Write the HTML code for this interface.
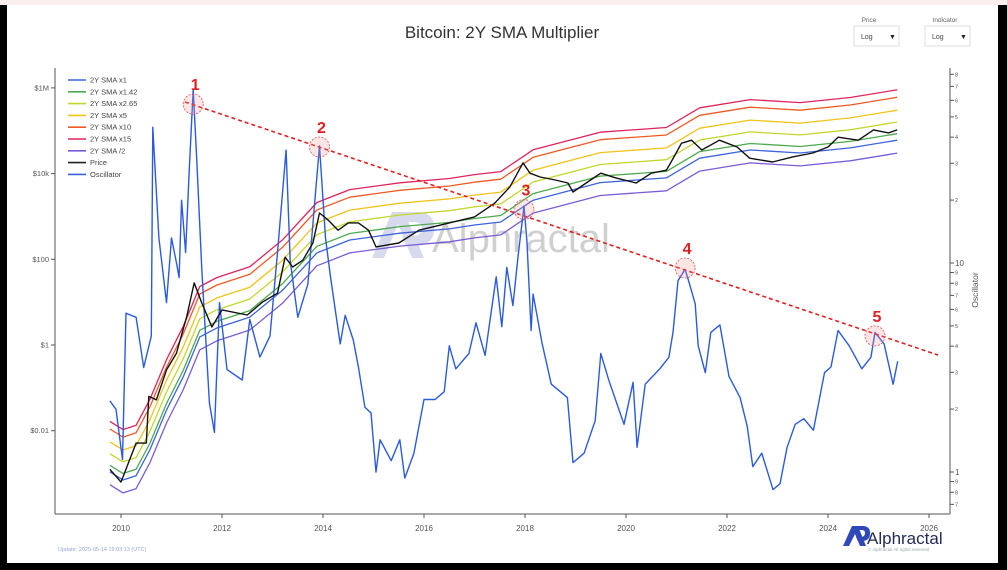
<!DOCTYPE html>
<html><head><meta charset="utf-8">
<style>
html,body{margin:0;padding:0;background:#000;}
#wrap{position:relative;width:1007px;height:570px;overflow:hidden;background:#000;font-family:"Liberation Sans",sans-serif;}
svg{position:absolute;left:0;top:0;}
</style></head>
<body>
<div id="wrap">
<svg id="chart" width="1007" height="570" viewBox="0 0 1007 570">
  <rect x="0" y="0" width="1007" height="5" fill="#fbeeee"/>
  <rect x="7" y="5" width="991" height="558" fill="#ffffff"/>
  <text x="502" y="38" text-anchor="middle" font-size="17" fill="#333">Bitcoin: 2Y SMA Multiplier</text>
  <g>
    <text x="869" y="22" text-anchor="middle" font-size="6.5" fill="#666">Price</text>
    <rect x="854" y="26" width="45" height="20" fill="#fff" stroke="#ddd"/>
    <text x="861" y="39" font-size="7" fill="#444">Log</text>
    <text x="889" y="39" font-size="7" fill="#222">▼</text>
  </g>
  <g>
    <text x="945" y="22" text-anchor="middle" font-size="6.5" fill="#666">Indicator</text>
    <rect x="925" y="26" width="45" height="20" fill="#fff" stroke="#ddd"/>
    <text x="932" y="39" font-size="7" fill="#444">Log</text>
    <text x="960" y="39" font-size="7" fill="#222">▼</text>
  </g>
  <g opacity="0.55">
    <path d="M372 258 L392 212 L404 212 L424 258 L412 258 L398 224 L384 258 Z" fill="#b8bde0"/>
    <path d="M398 212 L420 212 Q436 214 434 232 Q432 246 414 246 L406 246 L402 236 L414 236 Q422 235 422 229 Q422 222 414 222 L402 222 Z" fill="#b8bde0"/>
    <text x="432" y="252" font-size="40" fill="#aaa">Alphractal</text>
  </g>
  <g id="axes"></g>
  <g id="series"></g>
  <g id="annot"></g>
  <g id="legend"></g>
  <text x="58" y="551" font-size="5.5" fill="#9aaad0">Update: 2025-05-14 19:03:13 (UTC)</text>
  <g>
    <path d="M843 546 L852 526 L858 526 L866 546 L860 546 L855 534 L849 546 Z" fill="#2f49b8"/>
    <path d="M855 526 L864 526 Q871 527 870 535 Q869 541 862 541 L858 541 L856 537 L862 537 Q865 536 865 533 Q865 530 862 530 L857 530 Z" fill="#2f49b8"/>
    <text x="867" y="544" font-size="17" fill="#1f2a55">Alphractal</text>
    <text x="868" y="551" font-size="4.5" fill="#9aa">© Alphractal All rights reserved</text>
  </g>
</svg>
</div>
<script>
// ---- data ----
const smaYears = [2009.78,2010.04,2010.3,2010.57,2010.9,2011.23,2011.56,2011.9,2012.55,2013.2,2013.88,2014.53,2015.52,2016.5,2017.0,2017.52,2018.16,2019.49,2020.8,2021.46,2022.46,2023.45,2024.44,2025.37];
const smaLog10 = [-2.96,-3.15,-3.05,-2.45,-1.52,-0.75,0.19,0.40,0.65,1.28,2.15,2.45,2.61,2.71,2.80,2.87,3.38,3.79,3.90,4.36,4.55,4.48,4.60,4.78];
const bandMultipliers = [15,10,5,2.65,1.42,1,0.5];
const bandNames = ["2Y SMA x15","2Y SMA x10","2Y SMA x5","2Y SMA x2.65","2Y SMA x1.42","2Y SMA x1","2Y SMA /2"];
const priceYears = [2009.78,2010.0,2010.3,2010.5,2010.55,2010.7,2010.9,2011.1,2011.3,2011.45,2011.6,2011.8,2012.0,2012.5,2012.8,2013.1,2013.25,2013.4,2013.6,2013.8,2013.93,2014.1,2014.3,2014.5,2014.7,2014.9,2015.05,2015.5,2015.9,2016.5,2017.0,2017.4,2017.7,2017.96,2018.1,2018.3,2018.6,2018.85,2018.95,2019.3,2019.5,2019.8,2020.2,2020.5,2020.8,2020.95,2021.1,2021.3,2021.5,2021.85,2022.2,2022.45,2022.9,2023.3,2023.7,2024.0,2024.2,2024.6,2024.9,2025.2,2025.37];
const priceLog10 = [-2.9,-3.2,-2.29,-2.29,-1.2,-1.28,-0.58,-0.19,0.65,1.45,0.98,0.42,0.82,0.70,1.0,1.21,2.05,1.82,1.98,2.38,3.08,2.92,2.68,2.85,2.85,2.68,2.29,2.38,2.68,2.85,2.99,3.31,3.69,4.25,4.01,3.92,3.85,3.78,3.57,3.85,4.01,3.90,3.78,4.01,4.08,4.39,4.71,4.78,4.55,4.78,4.62,4.36,4.27,4.39,4.48,4.62,4.85,4.78,5.02,4.95,5.02];
const oscYears = [2009.78,2009.9,2010.03,2010.1,2010.3,2010.45,2010.6,2010.63,2010.75,2010.9,2011.0,2011.1,2011.15,2011.2,2011.28,2011.35,2011.43,2011.5,2011.6,2011.75,2011.85,2011.95,2012.1,2012.4,2012.55,2012.75,2012.95,2013.1,2013.27,2013.35,2013.5,2013.7,2013.85,2013.93,2014.05,2014.15,2014.34,2014.44,2014.6,2014.7,2014.83,2014.95,2015.05,2015.13,2015.35,2015.52,2015.62,2015.8,2016.0,2016.22,2016.4,2016.5,2016.63,2016.89,2017.03,2017.21,2017.29,2017.43,2017.54,2017.64,2017.76,2017.86,2017.98,2018.04,2018.12,2018.16,2018.34,2018.52,2018.84,2018.95,2019.17,2019.39,2019.5,2019.66,2019.96,2020.14,2020.22,2020.38,2020.67,2020.85,2020.93,2021.03,2021.17,2021.25,2021.37,2021.43,2021.57,2021.68,2021.86,2022.04,2022.26,2022.4,2022.51,2022.69,2022.91,2023.05,2023.19,2023.35,2023.52,2023.71,2023.93,2024.06,2024.2,2024.42,2024.67,2024.85,2024.93,2025.11,2025.29,2025.38];
const oscLog10 = [0.34,0.30,0.06,0.76,0.74,0.50,0.65,1.65,1.12,0.81,1.12,1.0,0.93,1.30,1.05,1.44,1.83,1.49,0.97,0.33,0.19,0.81,0.49,0.44,0.73,0.55,0.65,1.05,1.54,1.01,0.74,0.90,1.33,1.56,1.12,0.93,0.613,0.750,0.631,0.503,0.310,0.283,-0.001,0.154,0.054,0.154,-0.029,0.090,0.347,0.347,0.384,0.604,0.494,0.567,0.714,0.558,0.695,0.934,0.695,0.979,0.796,1.025,1.273,1.099,0.677,0.851,0.613,0.420,0.356,0.045,0.090,0.246,0.567,0.439,0.228,0.429,0.118,0.420,0.494,0.549,0.668,0.915,0.970,0.906,0.805,0.604,0.475,0.668,0.704,0.457,0.356,0.219,0.026,0.090,-0.084,-0.056,0.118,0.228,0.255,0.200,0.475,0.503,0.677,0.604,0.494,0.549,0.668,0.613,0.420,0.530];
const xTickYears = [2010,2012,2014,2016,2018,2020,2022,2024,2026];
const priceTickLog = [6,4,2,0,-2];
const priceTickLabels = ["$1M","$10k","$100","$1","$0.01"];
const peakYears = [2011.43,2013.93,2017.98,2021.17,2024.93];
const peakOscLog = [1.76,1.555,1.256,0.976,0.651];
const peakLabels = ["1","2","3","4","5"];

// ---- scales ----
const NS='http://www.w3.org/2000/svg';
const xS = y => 121 + (y-2010)*50.5;
const yP = v => 345 - v*42.85;
const yO = v => 472 - v*209;
function mk(tag, attrs, parent){const e=document.createElementNS(NS,tag);for(const k in attrs)e.setAttribute(k,attrs[k]);parent.appendChild(e);return e;}
const axes=document.getElementById('axes'), series=document.getElementById('series'), annot=document.getElementById('annot'), legend=document.getElementById('legend');

// axes
let a=mk('line',{x1:55,y1:68,x2:55,y2:514,stroke:'#555','stroke-width':1},axes);


a=mk('line',{x1:55,y1:514,x2:950,y2:514,stroke:'#555','stroke-width':1},axes);


a=mk('line',{x1:950,y1:68,x2:950,y2:514,stroke:'#555','stroke-width':1},axes);


xTickYears.forEach(yr=>{
  const x=xS(yr);
  mk('line',{x1:x,y1:514,x2:x,y2:518,stroke:'#555'},axes);
  const t=mk('text',{x:x,y:531,'text-anchor':'middle','font-size':8,fill:'#555'},axes);
  t.textContent=yr;
  
  
});
priceTickLog.forEach((v,i)=>{
  const y=yP(v);
  mk('line',{x1:51,y1:y,x2:55,y2:y,stroke:'#555'},axes);
  const t=mk('text',{x:49,y:y+2.5,'text-anchor':'end','font-size':7.5,fill:'#555'},axes);
  t.textContent=priceTickLabels[i];
  
  
});
[-1,0,1].forEach(dec=>{
  for(let m=1;m<=9;m++){
    const v=dec+Math.log10(m);
    const y=yO(v);
    if(y<68||y>512) continue;
    mk('line',{x1:950,y1:y,x2:954,y2:y,stroke:'#555'},axes);
    const major=(m===1);
    const t=mk('text',{x:955,y:y+(major?3:2),'font-size':major?8:5.5,fill:'#555'},axes);
    t.textContent=(major&&dec===1)?'10':String(m);
    
    
  }
});
let ot=mk('text',{x:978,y:290,'text-anchor':'middle','font-size':8.5,fill:'#555',transform:'rotate(-90 978 290)'},axes);
ot.textContent='Oscillator';



// series
const bandColors=['#e0245e','#ee5a24','#f2c318','#c5d62a','#4daa4d','#3d63dd','#7b5bd6'];
function pts(xs,ys,fy){return xs.map((x,i)=>xS(x).toFixed(1)+','+fy(ys[i]).toFixed(1)).join(' ');}
bandMultipliers.forEach((m,i)=>{
  const lm=Math.log10(m);
  const p=mk('polyline',{points:pts(smaYears,smaLog10.map(v=>v+lm),yP),fill:'none',stroke:bandColors[i],'stroke-width':1.3,'stroke-linejoin':'round'},series);
  
  
});
let pl=mk('polyline',{points:pts(oscYears,oscLog10,yO),fill:'none',stroke:'#2a5ae0','stroke-width':1.4,'stroke-linejoin':'round'},series);


pl=mk('polyline',{points:pts(priceYears,priceLog10,yP),fill:'none',stroke:'#111','stroke-width':1.4,'stroke-linejoin':'round'},series);



// annotations
let tl=mk('line',{x1:185,y1:102,x2:938,y2:355,stroke:'#e02020','stroke-width':1.6,'stroke-dasharray':'4,3'},annot);


peakYears.forEach((yr,i)=>{
  const cx=xS(yr), cy=yO(peakOscLog[i]);
  const c=mk('circle',{cx:cx,cy:cy,r:10,fill:'rgba(240,150,150,0.25)',stroke:'#e05050','stroke-width':0.8,'stroke-dasharray':'2,1.5'},annot);
  
  
  const t=mk('text',{x:cx+2,y:cy-14,'text-anchor':'middle','font-size':16,'font-weight':'bold',fill:'#e02020'},annot);
  t.textContent=peakLabels[i];
  
  
});

// legend
const legNames=["2Y SMA x1","2Y SMA x1.42","2Y SMA x2.65","2Y SMA x5","2Y SMA x10","2Y SMA x15","2Y SMA /2","Price","Oscillator"];
const legColors=['#3d63dd','#4daa4d','#c5d62a','#f2c318','#ee5a24','#e0245e','#7b5bd6','#222','#3d63dd'];
legNames.forEach((n,i)=>{
  const y=80+i*11.8;
  const g=mk('g',{},legend);
  
  
  mk('line',{x1:68,y1:y,x2:86,y2:y,stroke:legColors[i],'stroke-width':1.6},g);
  const t=mk('text',{x:90,y:y+2.5,'font-size':7.5,fill:'#444'},g);
  t.textContent=n;
});
</script>
</body></html>
